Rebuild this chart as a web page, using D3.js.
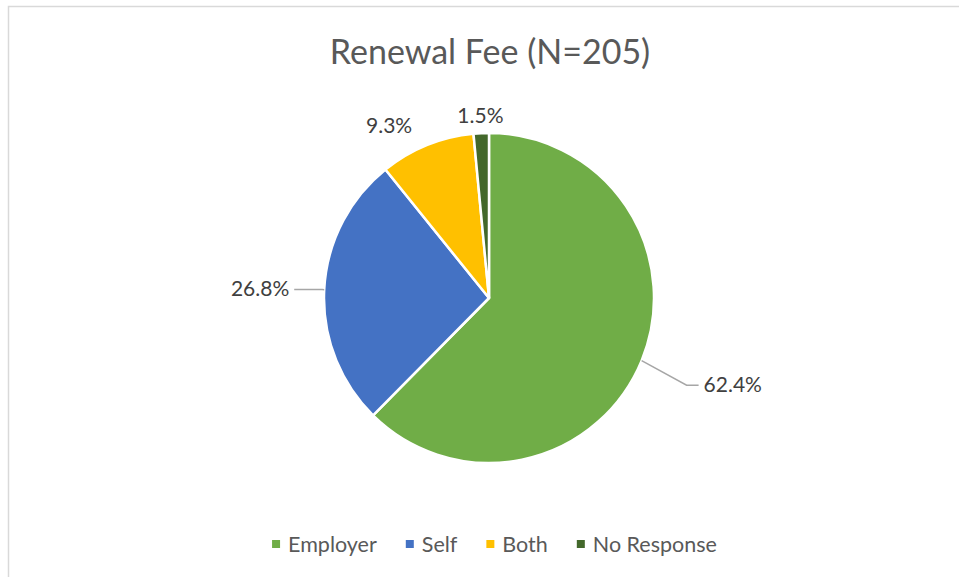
<!DOCTYPE html>
<html>
<head>
<meta charset="utf-8">
<script src="https://cdn.jsdelivr.net/npm/d3@7"></script>
<style>
  body { margin: 0; background: #fff; }
  svg { display: block; font-family: Lato, "Open Sans", sans-serif; }
</style>
</head>
<body>
<div class="pie-container"></div>
<script>
// Data
const categories = ['Employer', 'Self', 'Both', 'No Response'];
const percents = [62.4, 26.8, 9.3, 1.5];
const colors = ['#70AD47', '#4472C4', '#FFC000', '#43682B'];
const title = 'Renewal Fee (N=205)';

const svg_width = 959;
const svg_height = 577;
const center = { x: 489, y: 298 };
const radius = 165;

const svg = d3.select('.pie-container').append('svg')
    .attr('width', svg_width).attr('height', svg_height);

// chart border (right / bottom run off the picture)
svg.append('rect')
    .attr('x', 8.5).attr('y', 6.5)
    .attr('width', svg_width + 20).attr('height', svg_height + 20)
    .style('fill', 'none').style('stroke', '#d9d9d9').style('stroke-width', 1.5);

// title
svg.append('text')
    .attr('x', 490).attr('y', 64)
    .attr('text-anchor', 'middle')
    .style('font-size', '34px').style('fill', '#595959')
    .text(title);

const colorScale = d3.scaleOrdinal().domain(categories).range(colors);

const pie = d3.pie().sort(null).value(d => d.value);
const pieData = pie(categories.map((c, i) => ({ name: c, value: percents[i] })));
const arc = d3.arc().innerRadius(0).outerRadius(radius);

const g = svg.append('g').attr('transform', `translate(${center.x},${center.y})`);

g.selectAll('.slice').data(pieData).join('path')
    .attr('class', 'slice')
    .attr('d', arc)
    .style('fill', d => colorScale(d.data.name))
    .style('stroke', '#fff').style('stroke-width', 2.5)
    .style('stroke-linejoin', 'round');

// label placement: radius of label point, angle shift (deg), tail length of leader line
const labelCfg = [
    { r: 216, shift: 1.5, tail: 12 },
    { r: 167, shift: 0, tail: 28 },
    { r: 199, shift: -8, tail: 0 },
    { r: 183, shift: 0, tail: 0 }
];
const pt = (a, r) => [Math.sin(a) * r, -Math.cos(a) * r];
const fmt = d3.format('.1f');

pieData.forEach((d, i) => {
    const cfg = labelCfg[i];
    const mid = (d.startAngle + d.endAngle) / 2;
    const la = mid + cfg.shift * Math.PI / 180;
    const p = pt(la, cfg.r);
    const txt = fmt(d.data.value) + '%';
    if (cfg.tail > 0) {
        const side = Math.sin(la) > 0 ? 1 : -1;
        const s = pt(mid, radius);
        const e = [p[0] + side * cfg.tail, p[1]];
        g.append('polyline')
            .attr('points', [s, p, e].map(q => q.join(',')).join(' '))
            .style('fill', 'none').style('stroke', '#a6a6a6').style('stroke-width', 1.5);
        g.append('text')
            .attr('x', e[0] + side * 5).attr('y', e[1])
            .attr('dy', '0.3em')
            .attr('text-anchor', side > 0 ? 'start' : 'end')
            .style('font-size', '21px').style('fill', '#404040')
            .text(txt);
    } else {
        g.append('text')
            .attr('x', p[0]).attr('y', p[1])
            .attr('dy', '0.35em')
            .attr('text-anchor', 'middle')
            .style('font-size', '21px').style('fill', '#404040')
            .text(txt);
    }
});

// legend
const legend = svg.append('g').attr('class', 'legend');
const items = legend.selectAll('.item').data(categories).join('g').attr('class', 'item');
items.append('rect')
    .attr('width', 8).attr('height', 8)
    .attr('y', -4)
    .style('fill', d => colorScale(d));
items.append('text')
    .attr('x', 16).attr('dy', '0.35em')
    .style('font-size', '21.5px').style('fill', '#595959')
    .text(d => d);

let xPos = 0;
items.each(function () {
    const w = 16 + this.querySelector('text').getComputedTextLength();
    d3.select(this).attr('transform', `translate(${xPos},0)`);
    xPos += w + 29;
});
const total = xPos - 29;
legend.attr('transform', `translate(${494.5 - total / 2},544)`);
</script>
</body>
</html>
